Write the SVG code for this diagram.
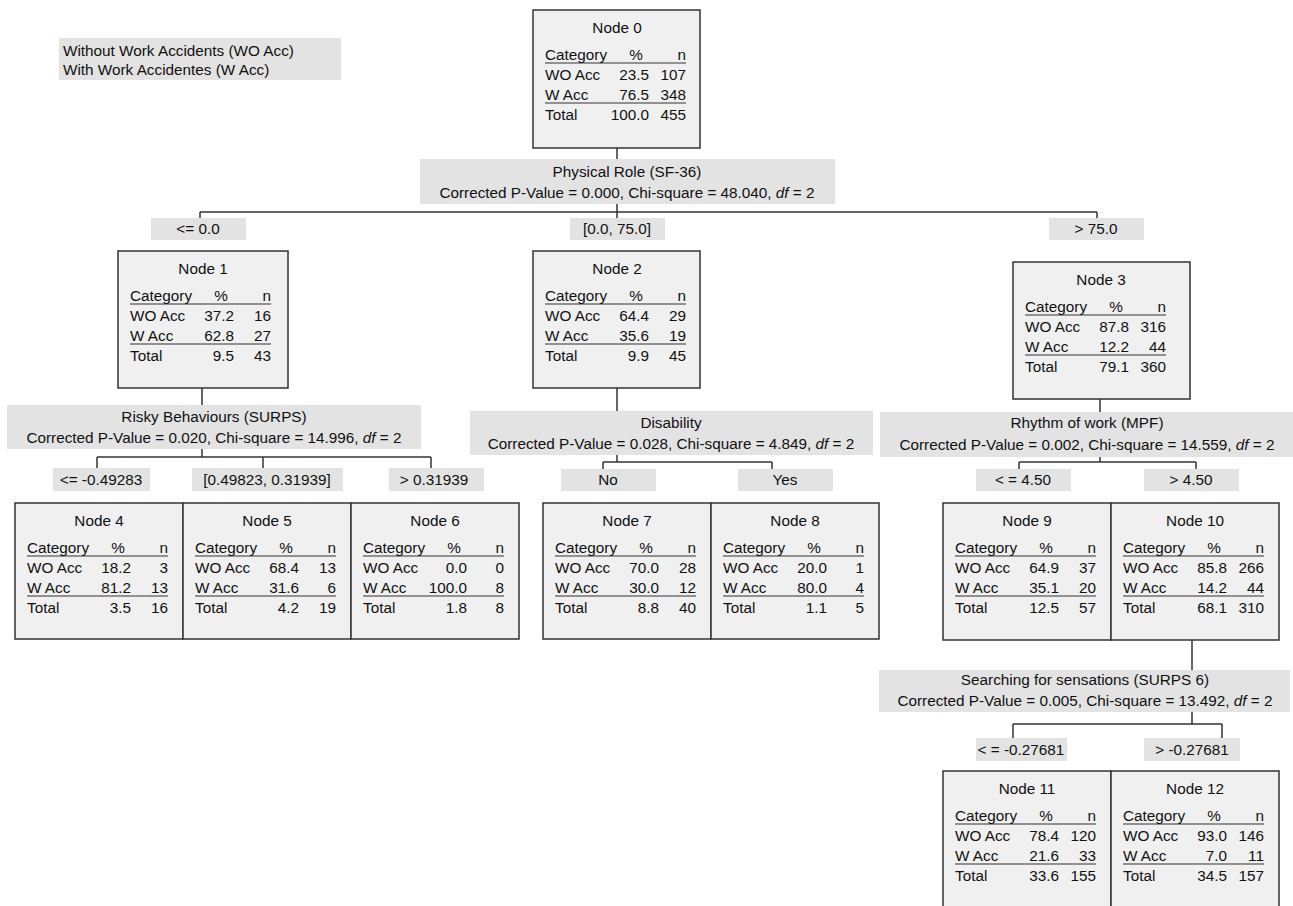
<svg xmlns="http://www.w3.org/2000/svg" width="1293" height="906" viewBox="0 0 1293 906">
<style>
text{font-family:"Liberation Sans",Arial,sans-serif;font-size:15.3px;fill:#111}
.m{text-anchor:middle}.e{text-anchor:end}
.node{fill:#f0f0f0;stroke:#333;stroke-width:1.5}
.lab{fill:#e3e3e3;stroke:none}
.ul{stroke:#333;stroke-width:1.2}
.con line{stroke:#333;stroke-width:1.5}
</style>
<defs>
<g id="tbl">
<line class="ul" x1="12" y1="53" x2="153" y2="53"/>
<line class="ul" x1="12" y1="93" x2="153" y2="93"/>
<text x="12" y="50">Category</text><text class="m" x="103" y="50">%</text><text class="e" x="153" y="50">n</text>
<text x="12" y="70">WO Acc</text><text x="12" y="90">W Acc</text><text x="12" y="110">Total</text>
</g>
</defs>
<rect width="1293" height="906" fill="#ffffff"/>
<g id="legend">
<rect class="lab" x="59" y="38" width="282" height="42"/>
<text x="63" y="56">Without Work Accidents (WO Acc)</text>
<text x="63" y="75">With Work Accidentes (W Acc)</text>
</g>
<g id="connectors" class="con">
<line x1="617" y1="148" x2="617" y2="159"/>
<line x1="617" y1="204" x2="617" y2="218"/>
<line x1="200" y1="212" x2="1097" y2="212"/>
<line x1="200" y1="212" x2="200" y2="218"/>
<line x1="1097" y1="212" x2="1097" y2="218"/>
<line x1="202" y1="388" x2="202" y2="405"/>
<line x1="202" y1="449" x2="202" y2="457"/>
<line x1="97" y1="457" x2="431" y2="457"/>
<line x1="97" y1="457" x2="97" y2="468"/>
<line x1="263" y1="457" x2="263" y2="468"/>
<line x1="431" y1="457" x2="431" y2="468"/>
<line x1="617" y1="388" x2="617" y2="411"/>
<line x1="617" y1="455" x2="617" y2="462"/>
<line x1="603" y1="462" x2="772" y2="462"/>
<line x1="603" y1="462" x2="603" y2="469"/>
<line x1="772" y1="462" x2="772" y2="469"/>
<line x1="1100" y1="399" x2="1100" y2="412"/>
<line x1="1100" y1="457" x2="1100" y2="462"/>
<line x1="1019" y1="462" x2="1196" y2="462"/>
<line x1="1019" y1="462" x2="1019" y2="469"/>
<line x1="1196" y1="462" x2="1196" y2="469"/>
<line x1="1192" y1="640" x2="1192" y2="670"/>
<line x1="1192" y1="712" x2="1192" y2="724"/>
<line x1="1013" y1="724" x2="1222" y2="724"/>
<line x1="1013" y1="724" x2="1013" y2="738"/>
<line x1="1222" y1="724" x2="1222" y2="738"/>
</g>
<g id="split0">
<rect class="lab" x="420" y="159" width="415" height="45"/>
<text class="m" x="627" y="177">Physical Role (SF-36)</text>
<text class="m" x="627" y="198">Corrected P-Value = 0.000, Chi-square = 48.040, <tspan font-style="italic">df</tspan> = 2</text>
</g>
<g id="split1">
<rect class="lab" x="7" y="405" width="414" height="44"/>
<text class="m" x="214" y="422">Risky Behaviours (SURPS)</text>
<text class="m" x="214" y="443">Corrected P-Value = 0.020, Chi-square = 14.996, <tspan font-style="italic">df</tspan> = 2</text>
</g>
<g id="split2">
<rect class="lab" x="470" y="411" width="403" height="44"/>
<text class="m" x="671" y="428">Disability</text>
<text class="m" x="671" y="449">Corrected P-Value = 0.028, Chi-square = 4.849, <tspan font-style="italic">df</tspan> = 2</text>
</g>
<g id="split3">
<rect class="lab" x="880" y="412" width="413" height="45"/>
<text class="m" x="1087" y="428">Rhythm of work (MPF)</text>
<text class="m" x="1087" y="450">Corrected P-Value = 0.002, Chi-square = 14.559, <tspan font-style="italic">df</tspan> = 2</text>
</g>
<g id="split10">
<rect class="lab" x="879" y="670" width="411" height="42"/>
<text class="m" x="1085" y="685">Searching for sensations (SURPS 6)</text>
<text class="m" x="1085" y="706">Corrected P-Value = 0.005, Chi-square = 13.492, <tspan font-style="italic">df</tspan> = 2</text>
</g>
<g id="labels">
<rect class="lab" x="151" y="218" width="95" height="22"/><text class="m" x="198" y="234">&lt;= 0.0</text>
<rect class="lab" x="570" y="218" width="95" height="22"/><text class="m" x="617" y="234">[0.0, 75.0]</text>
<rect class="lab" x="1049" y="218" width="95" height="22"/><text class="m" x="1096" y="234">&gt; 75.0</text>
<rect class="lab" x="53" y="468" width="97" height="23"/><text class="m" x="101" y="485">&lt;= -0.49283</text>
<rect class="lab" x="192" y="468" width="151" height="23"/><text class="m" x="267" y="485">[0.49823, 0.31939]</text>
<rect class="lab" x="389" y="468" width="95" height="23"/><text class="m" x="434" y="485">&gt; 0.31939</text>
<rect class="lab" x="561" y="469" width="95" height="22"/><text class="m" x="608" y="485">No</text>
<rect class="lab" x="738" y="469" width="95" height="22"/><text class="m" x="785" y="485">Yes</text>
<rect class="lab" x="976" y="469" width="95" height="22"/><text class="m" x="1023" y="485">&lt; = 4.50</text>
<rect class="lab" x="1144" y="469" width="95" height="22"/><text class="m" x="1191" y="485">&gt; 4.50</text>
<rect class="lab" x="976" y="738" width="91" height="23"/><text class="m" x="1021" y="755">&lt; = -0.27681</text>
<rect class="lab" x="1144" y="738" width="96" height="23"/><text class="m" x="1192" y="755">&gt; -0.27681</text>
</g>
<g id="node0" transform="translate(533,10)">
<rect class="node" width="167" height="138"/><text class="m" x="84" y="23">Node 0</text><use href="#tbl"/>
<text class="e" x="116" y="70">23.5</text><text class="e" x="153" y="70">107</text>
<text class="e" x="116" y="90">76.5</text><text class="e" x="153" y="90">348</text>
<text class="e" x="116" y="110">100.0</text><text class="e" x="153" y="110">455</text>
</g>
<g id="node1" transform="translate(118,251)">
<rect class="node" width="170" height="137"/><text class="m" x="85" y="23">Node 1</text><use href="#tbl"/>
<text class="e" x="116" y="70">37.2</text><text class="e" x="153" y="70">16</text>
<text class="e" x="116" y="90">62.8</text><text class="e" x="153" y="90">27</text>
<text class="e" x="116" y="110">9.5</text><text class="e" x="153" y="110">43</text>
</g>
<g id="node2" transform="translate(533,251)">
<rect class="node" width="167" height="137"/><text class="m" x="84" y="23">Node 2</text><use href="#tbl"/>
<text class="e" x="116" y="70">64.4</text><text class="e" x="153" y="70">29</text>
<text class="e" x="116" y="90">35.6</text><text class="e" x="153" y="90">19</text>
<text class="e" x="116" y="110">9.9</text><text class="e" x="153" y="110">45</text>
</g>
<g id="node3" transform="translate(1013,262)">
<rect class="node" width="177" height="137"/><text class="m" x="88" y="23">Node 3</text><use href="#tbl"/>
<text class="e" x="116" y="70">87.8</text><text class="e" x="153" y="70">316</text>
<text class="e" x="116" y="90">12.2</text><text class="e" x="153" y="90">44</text>
<text class="e" x="116" y="110">79.1</text><text class="e" x="153" y="110">360</text>
</g>
<g id="node4" transform="translate(15,503)">
<rect class="node" width="168" height="136"/><text class="m" x="84" y="23">Node 4</text><use href="#tbl"/>
<text class="e" x="116" y="70">18.2</text><text class="e" x="153" y="70">3</text>
<text class="e" x="116" y="90">81.2</text><text class="e" x="153" y="90">13</text>
<text class="e" x="116" y="110">3.5</text><text class="e" x="153" y="110">16</text>
</g>
<g id="node5" transform="translate(183,503)">
<rect class="node" width="168" height="136"/><text class="m" x="84" y="23">Node 5</text><use href="#tbl"/>
<text class="e" x="116" y="70">68.4</text><text class="e" x="153" y="70">13</text>
<text class="e" x="116" y="90">31.6</text><text class="e" x="153" y="90">6</text>
<text class="e" x="116" y="110">4.2</text><text class="e" x="153" y="110">19</text>
</g>
<g id="node6" transform="translate(351,503)">
<rect class="node" width="168" height="136"/><text class="m" x="84" y="23">Node 6</text><use href="#tbl"/>
<text class="e" x="116" y="70">0.0</text><text class="e" x="153" y="70">0</text>
<text class="e" x="116" y="90">100.0</text><text class="e" x="153" y="90">8</text>
<text class="e" x="116" y="110">1.8</text><text class="e" x="153" y="110">8</text>
</g>
<g id="node7" transform="translate(543,503)">
<rect class="node" width="168" height="136"/><text class="m" x="84" y="23">Node 7</text><use href="#tbl"/>
<text class="e" x="116" y="70">70.0</text><text class="e" x="153" y="70">28</text>
<text class="e" x="116" y="90">30.0</text><text class="e" x="153" y="90">12</text>
<text class="e" x="116" y="110">8.8</text><text class="e" x="153" y="110">40</text>
</g>
<g id="node8" transform="translate(711,503)">
<rect class="node" width="168" height="136"/><text class="m" x="84" y="23">Node 8</text><use href="#tbl"/>
<text class="e" x="116" y="70">20.0</text><text class="e" x="153" y="70">1</text>
<text class="e" x="116" y="90">80.0</text><text class="e" x="153" y="90">4</text>
<text class="e" x="116" y="110">1.1</text><text class="e" x="153" y="110">5</text>
</g>
<g id="node9" transform="translate(943,503)">
<rect class="node" width="168" height="137"/><text class="m" x="84" y="23">Node 9</text><use href="#tbl"/>
<text class="e" x="116" y="70">64.9</text><text class="e" x="153" y="70">37</text>
<text class="e" x="116" y="90">35.1</text><text class="e" x="153" y="90">20</text>
<text class="e" x="116" y="110">12.5</text><text class="e" x="153" y="110">57</text>
</g>
<g id="node10" transform="translate(1111,503)">
<rect class="node" width="168" height="137"/><text class="m" x="84" y="23">Node 10</text><use href="#tbl"/>
<text class="e" x="116" y="70">85.8</text><text class="e" x="153" y="70">266</text>
<text class="e" x="116" y="90">14.2</text><text class="e" x="153" y="90">44</text>
<text class="e" x="116" y="110">68.1</text><text class="e" x="153" y="110">310</text>
</g>
<g id="node11" transform="translate(943,771)">
<rect class="node" width="168" height="140"/><text class="m" x="84" y="23">Node 11</text><use href="#tbl"/>
<text class="e" x="116" y="70">78.4</text><text class="e" x="153" y="70">120</text>
<text class="e" x="116" y="90">21.6</text><text class="e" x="153" y="90">33</text>
<text class="e" x="116" y="110">33.6</text><text class="e" x="153" y="110">155</text>
</g>
<g id="node12" transform="translate(1111,771)">
<rect class="node" width="168" height="140"/><text class="m" x="84" y="23">Node 12</text><use href="#tbl"/>
<text class="e" x="116" y="70">93.0</text><text class="e" x="153" y="70">146</text>
<text class="e" x="116" y="90">7.0</text><text class="e" x="153" y="90">11</text>
<text class="e" x="116" y="110">34.5</text><text class="e" x="153" y="110">157</text>
</g>
</svg>
